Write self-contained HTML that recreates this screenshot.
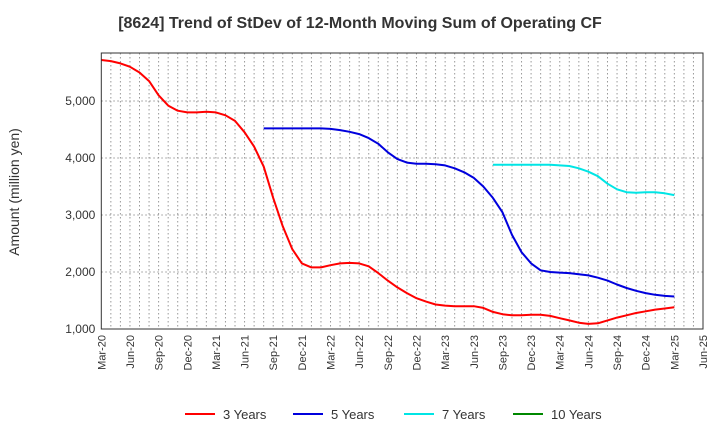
<!DOCTYPE html>
<html><head><meta charset="utf-8"><style>
body{margin:0;background:#fff;font-family:"Liberation Sans",Arial,sans-serif}
</style></head><body>
<svg id="c" width="720" height="440" xmlns="http://www.w3.org/2000/svg">
<text x="360" y="28" text-anchor="middle" font-size="16" font-weight="bold" fill="#333">[8624]  Trend of StDev of 12-Month Moving Sum of Operating CF</text>
<text transform="translate(19,192) rotate(-90)" text-anchor="middle" font-size="14" fill="#333">Amount (million yen)</text>
<g id="grid"></g><g id="series"></g><g id="axes"></g><g id="legend"></g>
</svg>
<script>
const xLabels=["Mar-20","Jun-20","Sep-20","Dec-20","Mar-21","Jun-21","Sep-21","Dec-21","Mar-22","Jun-22","Sep-22","Dec-22","Mar-23","Jun-23","Sep-23","Dec-23","Mar-24","Jun-24","Sep-24","Dec-24","Mar-25","Jun-25"];
const yTicks=[1000,2000,3000,4000,5000];
const yTickLabels=["1,000","2,000","3,000","4,000","5,000"];
const s3=[5720,5700,5660,5600,5500,5350,5100,4920,4830,4800,4800,4810,4800,4750,4650,4450,4200,3850,3300,2800,2400,2150,2080,2080,2120,2150,2160,2150,2100,1980,1850,1730,1630,1540,1480,1430,1410,1400,1400,1400,1370,1300,1260,1240,1240,1250,1250,1230,1190,1150,1110,1090,1100,1150,1200,1240,1280,1310,1340,1360,1380];
const s5=[null,null,null,null,null,null,null,null,null,null,null,null,null,null,null,null,null,4520,4520,4520,4520,4520,4520,4520,4510,4490,4460,4420,4350,4250,4100,3980,3920,3900,3900,3890,3870,3820,3750,3650,3500,3300,3050,2650,2350,2150,2030,2000,1990,1980,1960,1940,1900,1850,1780,1720,1670,1630,1600,1580,1570];
const s7=[];for(let i=0;i<41;i++)s7.push(null);
s7.push(3880,3880,3880,3880,3880,3880,3880,3870,3860,3820,3760,3680,3550,3450,3400,3390,3400,3400,3380,3350);
const s10=[];
const seriesNames=["3 Years","5 Years","7 Years","10 Years"];
const colors=["#ff0000","#0000dd","#00e5e5","#008800"];
const X0=101.3,X1=703,Y0=329,YT=53,NM=63;
const x=i=>X0+i*(X1-X0)/NM;
const y=v=>Y0-(v-1000)*57/1000;
const NS="http://www.w3.org/2000/svg";
function mk(t,a,p){const e=document.createElementNS(NS,t);for(const k in a)e.setAttribute(k,a[k]);p.appendChild(e);return e;}
const g=document.getElementById('grid');
for(let i=1;i<NM;i++){const l=mk('line',{x1:x(i),x2:x(i),y1:YT,y2:Y0,stroke:'#999','stroke-dasharray':'1.5,2.5','stroke-width':1},g);

}
yTicks.forEach(v=>{const l=mk('line',{x1:X0,x2:X1,y1:y(v),y2:y(v),stroke:'#999','stroke-dasharray':'1.5,2.5'},g);

});
const sg=document.getElementById('series');
[s3,s5,s7,s10].forEach((s,k)=>{let d='';let st=false;s.forEach((v,i)=>{if(v==null){st=false;return;}d+=(st?'L':'M')+x(i).toFixed(1)+','+y(v).toFixed(1);st=true;});
if(d){const p=mk('path',{d:d,fill:'none',stroke:colors[k],'stroke-width':2,'stroke-linejoin':'round'},sg);

}});
const ax=document.getElementById('axes');
const r=mk('rect',{x:X0,y:YT,width:X1-X0,height:Y0-YT,fill:'none',stroke:'#333'},ax);


yTicks.forEach((v,i)=>{const t=mk('text',{x:X0-6,y:y(v)+4,'text-anchor':'end','font-size':12,fill:'#333'},ax);t.textContent=yTickLabels[i];

});
xLabels.forEach((lb,i)=>{const px=x(i*3);const t=mk('text',{transform:`translate(${px+4},${Y0+6}) rotate(-90)`,'text-anchor':'end','font-size':11,fill:'#333'},ax);t.textContent=lb;

});
const lg=document.getElementById('legend');
const lx=[185,293,404,513];
seriesNames.forEach((n,k)=>{const gg=mk('g',{},lg);


mk('line',{x1:lx[k],x2:lx[k]+30,y1:414,y2:414,stroke:colors[k],'stroke-width':2},gg);
const t=mk('text',{x:lx[k]+38,y:419,'font-size':13,fill:'#333'},gg);t.textContent=n;});
</script>
</body></html>
